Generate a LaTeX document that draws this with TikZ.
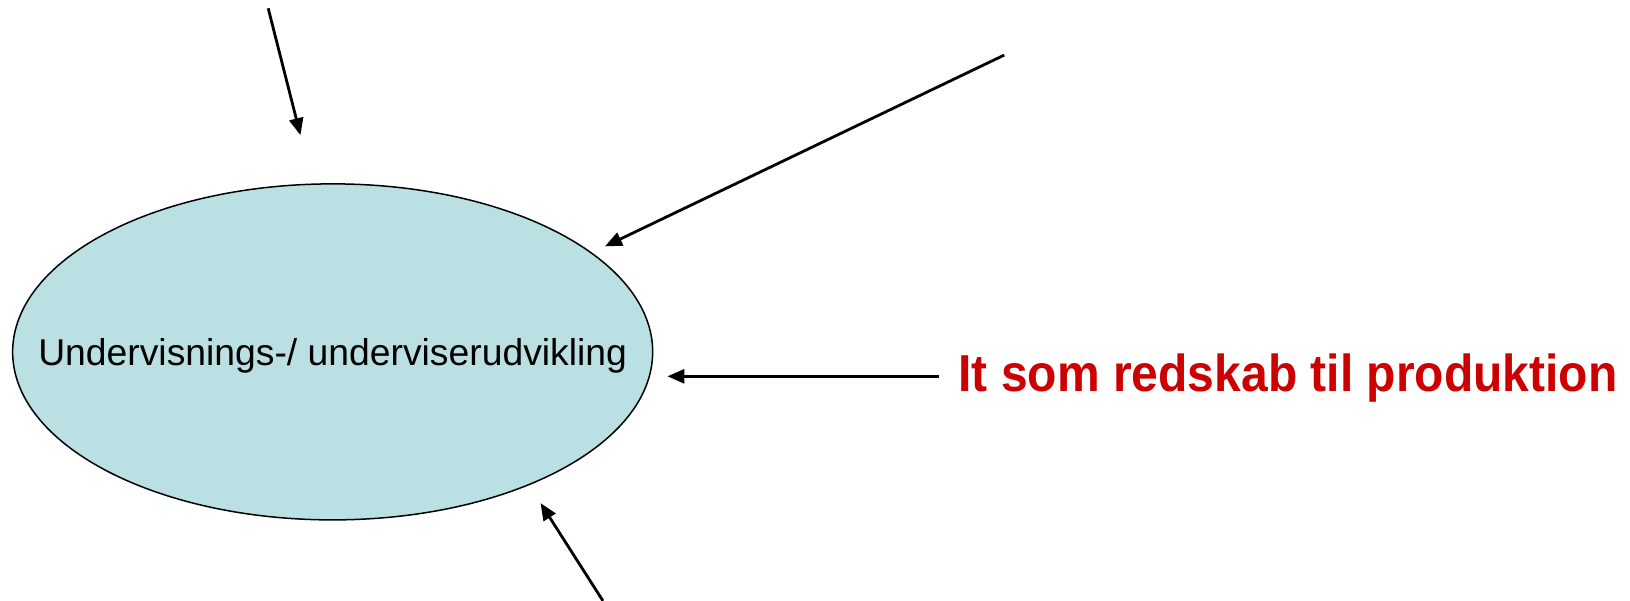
\documentclass[tikz,border=0pt]{standalone}
\usepackage{fontspec}
\setmainfont{Liberation Sans}
\usetikzlibrary{arrows.meta,shapes.geometric}
\definecolor{ellfill}{HTML}{BAE0E3}
\definecolor{redtext}{HTML}{CC0000}
\begin{document}
\begin{tikzpicture}[x=1.0395pt,y=-1.0395pt,
  conn/.style={line width=2.8pt,-{Triangle[length=17pt,width=14pt]}}]
\useasboundingbox (0,0) rectangle (1568,577.2);
\node[ellipse, draw, line width=1.5pt, fill=ellfill, minimum width=640pt, minimum height=336pt, inner sep=0pt] (ell) at (320,338.5) {};
\node[font=\fontsize{37.3}{42}\selectfont, anchor=base] (lbl) at (320,352) {Undervisnings-/ underviserudvikling};
\node[font=\fontsize{52}{58}\selectfont\bfseries, text=redtext, anchor=base west, inner sep=0pt, xscale=0.923, transform shape] (it) at (922,377) {It som redskab til produktion};
\coordinate (a1s) at (258,8);
\coordinate (a1e) at (289,130);
\coordinate (a2s) at (966,53);
\coordinate (a2e) at (582,237);
\coordinate (a3s) at (903,362);
\coordinate (a3e) at (642,362);
\coordinate (a4s) at (580,578);
\coordinate (a4e) at (520,484);
\draw[conn] (a1s) -- (a1e);
\draw[conn] (a2s) -- (a2e);
\draw[conn] (a3s) -- (a3e);
\draw[conn] (a4s) -- (a4e);
\end{tikzpicture}
\end{document}
